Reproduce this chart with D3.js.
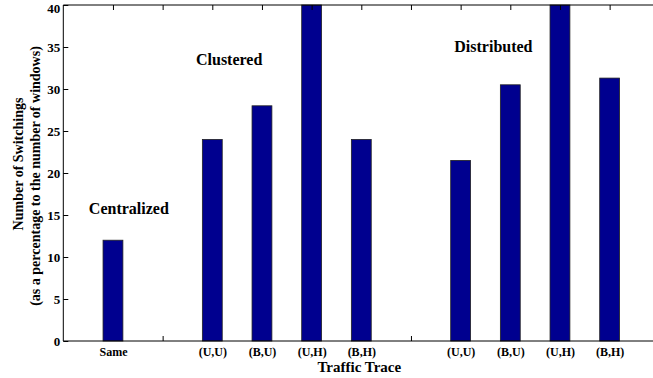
<!DOCTYPE html>
<html>
<head>
<meta charset="utf-8">
<script src="https://cdn.jsdelivr.net/npm/d3@7"></script>
<style>
  body { margin: 0; background: #fff; }
  svg text { font-family: "Liberation Serif", "Times New Roman", serif; font-weight: bold; fill: #000; }
</style>
</head>
<body>
<div id="container"></div>
<script>

// slot positions 1..11 along the x axis; empty slots separate the groups
const slots = [1, 2, 3, 4, 5, 6, 7, 8, 9, 10, 11];
const tickLabels = ["Same", "", "(U,U)", "(B,U)", "(U,H)", "(B,H)", "", "(U,U)", "(B,U)", "(U,H)", "(B,H)"];
const switchings = [12, 0, 24, 28, 40, 24, 0, 21.5, 30.5, 40, 31.3];
const yTicks = [0, 5, 10, 15, 20, 25, 30, 35, 40];
const groupNames = ["Centralized", "Clustered", "Distributed"];
const groupNameSlot = [1.32, 3.34, 8.66];
const groupNameValue = [15.1, 32.9, 34.4];

function main() {
    const svgWidth = 653;
    const svgHeight = 378;

    const svg = d3.select("#container")
        .append("svg")
        .attr("width", svgWidth)
        .attr("height", svgHeight);

    const xScale = d3.scaleLinear()
        .domain([0, 12])
        .range([63.3, 659.3]);

    const yScale = d3.scaleLinear()
        .domain([0, 40])
        .range([341, 5]);

    const barWidth = (xScale(1) - xScale(0)) * 0.4;

    // bars
    svg.append("g")
        .selectAll("rect")
        .data(switchings)
        .join("rect")
        .attr("x", (d, i) => xScale(slots[i]) - barWidth / 2)
        .attr("y", d => yScale(d))
        .attr("width", barWidth)
        .attr("height", d => yScale(0) - yScale(d))
        .attr("fill", "#00008f")
        .attr("stroke", "#222")
        .attr("stroke-width", 0.8);

    // box frame
    const x0 = xScale(0), x1 = xScale(12), y0 = yScale(0), y1 = yScale(40);
    svg.append("path")
        .attr("d", `M${x0},${y1}V${y0}H${x1}V${y1}Z`)
        .attr("fill", "none")
        .attr("stroke", "#000")
        .attr("stroke-width", 1);

    // y axis (left) with inward ticks
    const yAxis = svg.append("g")
        .attr("transform", `translate(${x0},0)`)
        .call(d3.axisLeft(yScale).tickValues(yTicks).tickSizeInner(-5).tickSizeOuter(0).tickPadding(3));
    yAxis.select(".domain").remove();
    yAxis.selectAll("text")
        .style("font-size", "13px")
        .attr("dy", d => d === 40 ? "0.6em" : "0.32em");

    // mirrored right ticks
    const yAxisRight = svg.append("g")
        .attr("transform", `translate(${x1},0)`)
        .call(d3.axisRight(yScale).tickValues(yTicks).tickSizeInner(-5).tickSizeOuter(0).tickFormat(""));
    yAxisRight.select(".domain").remove();

    // x axis (bottom) with inward ticks
    const xAxis = svg.append("g")
        .attr("transform", `translate(0,${y0})`)
        .call(d3.axisBottom(xScale).tickValues(slots).tickSizeInner(-5).tickSizeOuter(0).tickPadding(6.5)
            .tickFormat((d, i) => tickLabels[i]));
    xAxis.select(".domain").remove();
    xAxis.selectAll("text").style("font-size", "12px");
    xAxis.lower();

    // top ticks
    const xAxisTop = svg.append("g")
        .attr("transform", `translate(0,${y1})`)
        .call(d3.axisTop(xScale).tickValues(slots).tickSizeInner(-5).tickSizeOuter(0).tickFormat(""));
    xAxisTop.select(".domain").remove();

    svg.selectAll(".tick line").attr("stroke", "#000");

    // group annotations
    svg.append("g")
        .selectAll("text")
        .data(groupNames)
        .join("text")
        .attr("x", (d, i) => xScale(groupNameSlot[i]))
        .attr("y", (d, i) => yScale(groupNameValue[i]))
        .attr("text-anchor", "middle")
        .style("font-size", "16px")
        .text(d => d);

    // axis titles
    svg.append("text")
        .attr("x", (x0 + x1) / 2 - 2)
        .attr("y", 372)
        .attr("text-anchor", "middle")
        .style("font-size", "15px")
        .text("Traffic Trace");

    const yTitle = svg.append("text")
        .attr("transform", `translate(0,170) rotate(-90)`)
        .attr("text-anchor", "middle")
        .style("font-size", "14px");
    yTitle.append("tspan").attr("x", 6).attr("y", 23).text("Number of Switchings");
    yTitle.append("tspan").attr("x", -6).attr("y", 40).text("(as a percentage to the number of windows)");
}

main();
</script>
</body>
</html>
